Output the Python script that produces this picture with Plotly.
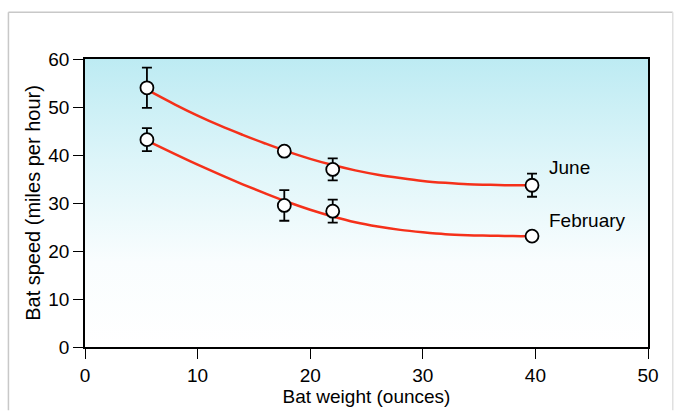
import plotly.graph_objects as go

# Measured points
weights = [5.5, 17.7, 22.0, 39.7]
june_speed = [54.0, 40.8, 37.0, 33.7]
june_err = [4.2, 0.0, 2.3, 2.4]
feb_speed = [43.2, 29.5, 28.3, 23.1]
feb_err = [2.4, 3.2, 2.4, 0.0]

# Fitted curves
curve_x = [5.5, 8, 10, 12, 14, 16, 18, 20, 22, 24, 26, 28, 30, 32, 34, 36, 38, 39.7]
june_curve = [53.6, 50.5, 48.2, 46.1, 44.2, 42.4, 40.7, 39.2, 37.9, 36.8, 35.9, 35.2, 34.6, 34.2, 33.9, 33.8, 33.7, 33.7]
feb_curve = [43.0, 40.2, 38.0, 35.9, 33.9, 32.0, 30.2, 28.6, 27.2, 26.0, 25.1, 24.4, 23.9, 23.5, 23.3, 23.2, 23.1, 23.1]

x_ticks = [0, 10, 20, 30, 40, 50]
y_ticks = [0, 10, 20, 30, 40, 50, 60]

fig = go.Figure()

# gradient background
fig.add_trace(go.Scatter(
    x=[0, 50, 50, 0, 0], y=[0, 0, 60, 60, 0], mode="none", fill="toself",
    fillgradient=dict(type="vertical", start=0, stop=60,
                      colorscale=[[0, "#ffffff"], [0.3, "#f9fdfe"], [0.65, "#ddf5f9"], [1, "#bdebf3"]]),
    hoverinfo="skip", showlegend=False))

red = "#f5301a"
fig.add_trace(go.Scatter(x=curve_x, y=june_curve, mode="lines", line=dict(color=red, width=2.5, shape="spline"), showlegend=False))
fig.add_trace(go.Scatter(x=curve_x, y=feb_curve, mode="lines", line=dict(color=red, width=2.5, shape="spline"), showlegend=False))

marker = dict(size=13, color="white", line=dict(color="black", width=1.8))
fig.add_trace(go.Scatter(x=weights, y=june_speed, mode="markers", marker=marker,
                         error_y=dict(type="data", array=june_err, color="black", thickness=1.8, width=5),
                         showlegend=False))
fig.add_trace(go.Scatter(x=weights, y=feb_speed, mode="markers", marker=marker,
                         error_y=dict(type="data", array=feb_err, color="black", thickness=1.8, width=5),
                         showlegend=False))

fig.add_annotation(x=41.0, y=37.4, text="June", showarrow=False, xanchor="left",
                   font=dict(size=19, color="black"))
fig.add_annotation(x=41.0, y=26.3, text="February", showarrow=False, xanchor="left",
                   font=dict(size=19, color="black"))

# outer page frame
fig.add_shape(type="line", xref="paper", yref="paper", x0=-0.136, x1=1.044, y0=1.162, y1=1.162,
              line=dict(color="#c8c8c8", width=1.5))
fig.add_shape(type="line", xref="paper", yref="paper", x0=-0.136, x1=-0.136, y0=1.162, y1=-0.22,
              line=dict(color="#c8c8c8", width=1.5))
fig.add_shape(type="line", xref="paper", yref="paper", x0=1.044, x1=1.044, y0=1.162, y1=-0.22,
              line=dict(color="#e0e0e0", width=1.5))

font = "Liberation Sans, Arial, sans-serif"
fig.update_layout(
    width=675, height=411,
    margin=dict(l=85, r=27, t=59, b=62),
    paper_bgcolor="white", plot_bgcolor="white",
    font=dict(family=font, size=16, color="black"),
    xaxis=dict(range=[0, 50], tickvals=x_ticks, ticks="outside", ticklen=10, tickwidth=1.2,
               tickcolor="black", showline=True, linecolor="black", linewidth=1.5, mirror=True,
               showgrid=False, zeroline=False, tickfont=dict(size=19),
               title=dict(text="Bat weight (ounces)", font=dict(size=19), standoff=0)),
    yaxis=dict(range=[0, 60], tickvals=y_ticks, ticks="outside", ticklen=10, tickwidth=1.2,
               tickcolor="black", showline=True, linecolor="black", linewidth=1.5, mirror=True,
               showgrid=False, zeroline=False, tickfont=dict(size=19),
               title=dict(text="Bat speed (miles per hour)", font=dict(size=20), standoff=2)),
)

fig.write_html("out.html")
